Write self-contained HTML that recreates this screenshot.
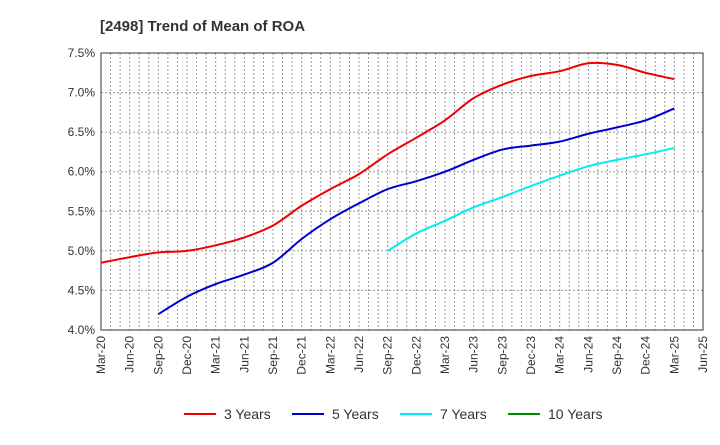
<!DOCTYPE html>
<html><head><meta charset="utf-8"><style>
body{margin:0;background:#fff;font-family:"Liberation Sans",sans-serif}
</style></head><body>
<svg id="chart" width="720" height="440" xmlns="http://www.w3.org/2000/svg">
<text x="100" y="31" font-size="15" font-weight="bold" fill="#333">[2498]  Trend of Mean of ROA</text>
<g id="grid"></g><g id="axes"></g><g id="series"></g><g id="legend"></g>
</svg>
<script>
const xLabels=["Mar-20","Jun-20","Sep-20","Dec-20","Mar-21","Jun-21","Sep-21","Dec-21","Mar-22","Jun-22","Sep-22","Dec-22","Mar-23","Jun-23","Sep-23","Dec-23","Mar-24","Jun-24","Sep-24","Dec-24","Mar-25","Jun-25"];
const yTicks=[4.0,4.5,5.0,5.5,6.0,6.5,7.0,7.5];
const s3=[4.85,4.92,4.98,5.00,5.07,5.17,5.32,5.57,5.78,5.97,6.22,6.43,6.65,6.93,7.10,7.21,7.27,7.37,7.35,7.25,7.17];
const s5=[4.20,4.42,4.58,4.70,4.85,5.15,5.40,5.60,5.78,5.88,6.00,6.15,6.28,6.33,6.38,6.48,6.56,6.65,6.80];
const s7=[5.00,5.22,5.38,5.55,5.68,5.82,5.95,6.07,6.15,6.22,6.30];
const s10=[];
const seriesNames=["3 Years","5 Years","7 Years","10 Years"];
const ns="http://www.w3.org/2000/svg";
const L=101,R=703,T=53,B=330,ymin=4,ymax=7.5;
const xq=i=>L+(R-L)*i/21;
const y=v=>B-(v-ymin)/(ymax-ymin)*(B-T);
function mk(tag,at,parent,txt){const e=document.createElementNS(ns,tag);for(const k in at)e.setAttribute(k,at[k]);if(txt!==undefined)e.textContent=txt;document.getElementById(parent).appendChild(e);return e;}
function smooth(pts){let d='M'+pts[0][0]+','+pts[0][1];
for(let i=0;i<pts.length-1;i++){const p0=pts[Math.max(0,i-1)],p1=pts[i],p2=pts[i+1],p3=pts[Math.min(pts.length-1,i+2)];
const c1=[p1[0]+(p2[0]-p0[0])/6,p1[1]+(p2[1]-p0[1])/6],c2=[p2[0]-(p3[0]-p1[0])/6,p2[1]-(p3[1]-p1[1])/6];
d+=` C${c1[0]},${c1[1]} ${c2[0]},${c2[1]} ${p2[0]},${p2[1]}`;}return d;}
for(let m=1;m<63;m++){const x=L+(R-L)*m/63;
const g=mk('line',{x1:x,x2:x,y1:T,y2:B,stroke:'#999','stroke-dasharray':'2,2','stroke-width':1},'grid');

}
yTicks.forEach(v=>{const g=mk('line',{x1:L,x2:R,y1:y(v),y2:y(v),stroke:'#999','stroke-dasharray':'2,2'},'grid');


const t=mk('text',{x:L-6,y:y(v)+4,'text-anchor':'end','font-size':12,fill:'#333'},'axes',v.toFixed(1)+'%');

});
const f=mk('rect',{x:L,y:T,width:R-L,height:B-T,fill:'none',stroke:'#333'},'axes');


xLabels.forEach((l,i)=>{const t=mk('text',{transform:`translate(${xq(i)+4},${B+6}) rotate(-90)`,'text-anchor':'end','font-size':12,fill:'#333'},'axes',l);

});
const colors=["#e00","#00c","#0ee","#080"];
const data=[[s3,0],[s5,2],[s7,10],[s10,0]];
data.forEach(([s,off],k)=>{if(!s.length)return;
const p=mk('path',{d:smooth(s.map((v,i)=>[xq(i+off),y(v)])),fill:'none',stroke:colors[k],'stroke-width':2,'stroke-linejoin':'round'},'series');

});
const lx=[184,292,400,508];
seriesNames.forEach((n,k)=>{const ln=mk('line',{x1:lx[k],x2:lx[k]+32,y1:414,y2:414,stroke:colors[k],'stroke-width':2},'legend');


const t=mk('text',{x:lx[k]+40,y:419,'font-size':14,fill:'#333'},'legend',n);

});
</script>
</body></html>
